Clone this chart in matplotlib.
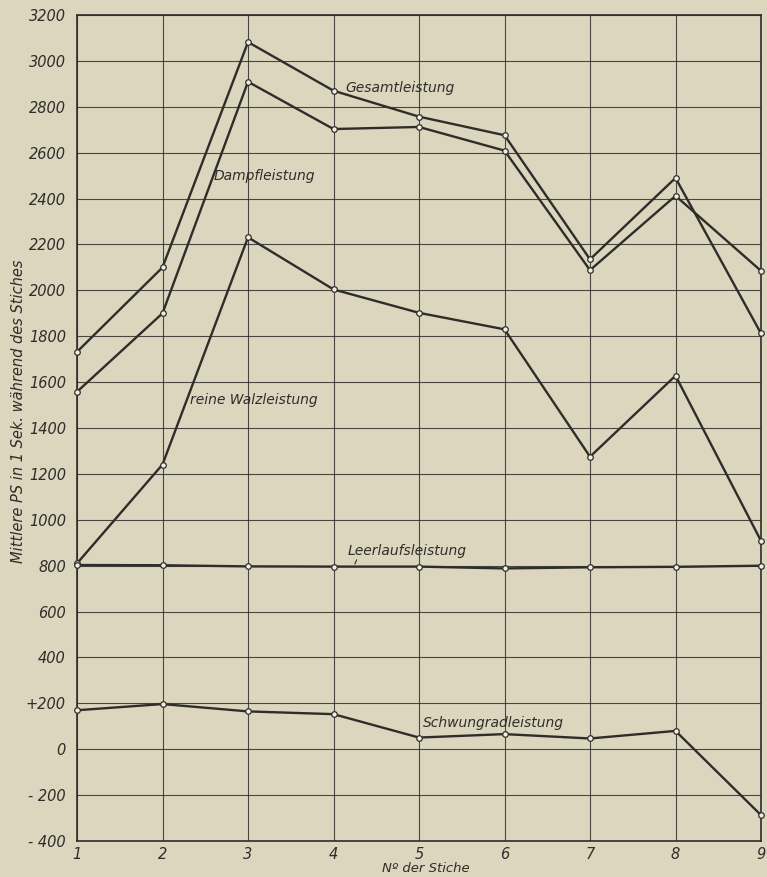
import matplotlib.pyplot as plt

# Leistungsverlauf je Stich
stiche = [1, 2, 3, 4, 5, 6, 7, 8, 9]
gesamt = [1732, 2100, 3082, 2870, 2757, 2676, 2135, 2490, 1812]
dampf = [1558, 1900, 2909, 2703, 2712, 2609, 2088, 2412, 2085]
walz = [810, 1241, 2231, 2004, 1902, 1830, 1275, 1628, 908]
leerlauf = [803, 802, 797, 796, 796, 788, 793, 795, 800]
schwungrad = [170, 197, 165, 153, 51, 66, 47, 80, -287]

y_ticks = list(range(-400, 3201, 200))
y_labels = [("+200" if v == 200 else ("- " + str(-v) if v < 0 else str(v))) for v in y_ticks]

bg = "#dcd6bf"
ink = "#2e2d29"

plt.rcParams['font.family'] = ['DejaVu Sans']
fig = plt.figure(figsize=(7.67, 8.77), dpi=100, facecolor=bg)
ax = fig.add_axes([0.1004, 0.041, 0.8918, 0.9419], facecolor=bg)

for series in [gesamt, dampf, walz, leerlauf, schwungrad]:
    ax.plot(stiche, series, color=ink, lw=1.7, marker='o', ms=4,
            mfc='#f1eee2', mec=ink, mew=0.9, zorder=3, clip_on=False)

ax.set_xlim(1, 9)
ax.set_ylim(-400, 3200)
ax.set_xticks(stiche)
ax.set_yticks(y_ticks)
ax.set_yticklabels(y_labels)
ax.grid(True, color=ink, lw=0.8, alpha=0.85)
ax.tick_params(length=0, labelsize=10.5, colors=ink)
ax.tick_params(axis='y', pad=8)
ax.tick_params(axis='x', pad=4)
for lbl in ax.get_xticklabels() + ax.get_yticklabels():
    lbl.set_fontstyle('italic')
for sp in ax.spines.values():
    sp.set_color(ink)
    sp.set_linewidth(1.2)

txt = dict(fontstyle='italic', fontsize=10, color=ink, ha='center', va='center')
ax.text(4.78, 2882, "Gesamtleistung", **txt)
ax.text(3.19, 2498, "Dampfleistung", **txt)
ax.text(3.07, 1522, "reine Walzleistung", **txt)
ax.text(4.86, 863, "Leerlaufsleistung", **txt)
ax.plot([4.27, 4.25], [825, 808], color=ink, lw=0.8)
ax.text(5.87, 115, "Schwungradleistung", **txt)

ax.set_ylabel("Mittlere PS in 1 Sek. während des Stiches", fontstyle='italic',
              fontsize=10.5, color=ink, labelpad=6)
ax.set_xlabel("Nº der Stiche", fontstyle='italic', fontsize=9.5, color=ink, labelpad=0)
ax.xaxis.set_label_coords(0.51, -0.025)
ax.yaxis.set_label_coords(-0.075, 0.52)

fig.savefig("out.png", dpi=100, facecolor=bg)
